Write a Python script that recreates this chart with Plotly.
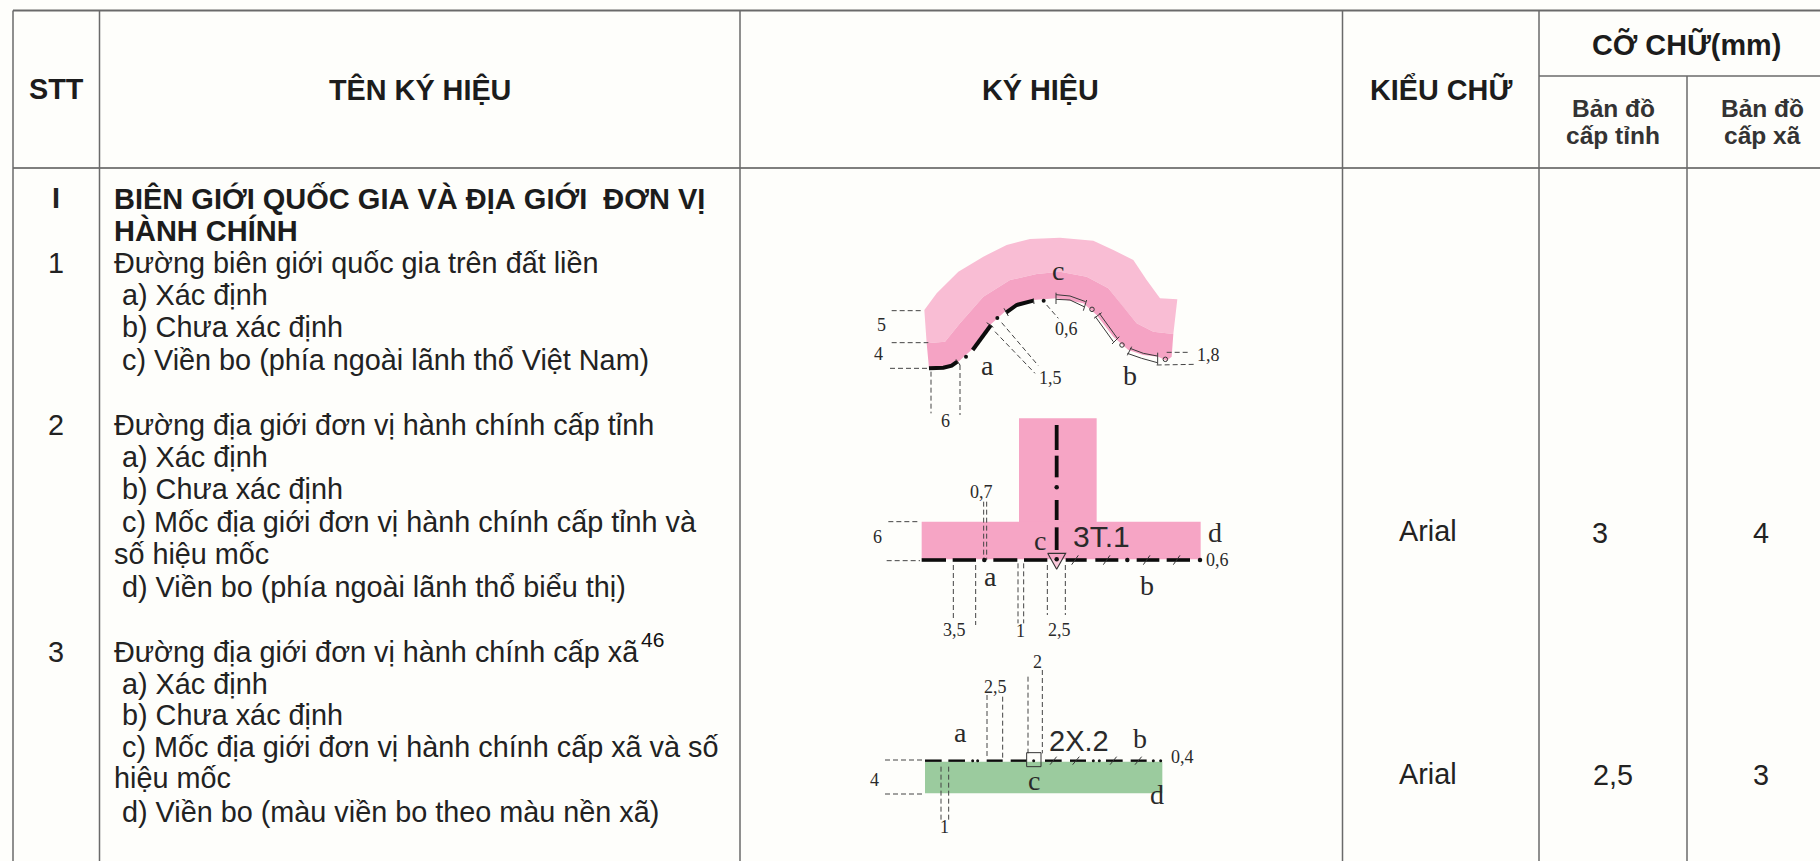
import plotly.graph_objects as go

W, H = 1820, 861
BG = "#FEFEFB"
RULE = "#6A6A6A"
SANS = "Liberation Sans, Arial, sans-serif"
SERIF = "Liberation Serif, Times New Roman, serif"

# ---------- table structure (pixels of the reference) ----------
col_edges = [13, 99.5, 740, 1342.5, 1539, 1687]
header_top, header_mid, header_bottom = 10.5, 76, 168

headers = ["STT", "TÊN KÝ HIỆU", "KÝ HIỆU", "KIỂU CHỮ", "CỠ CHỮ(mm)"]
header_x = [56, 420, 1040, 1441, 1686]
header_y = [89, 89, 89, 89, 44]
sub_headers = ["Bản đồ", "cấp tỉnh", "Bản đồ", "cấp xã"]
sub_x = [1613, 1613, 1762, 1762]
sub_y = [108, 135, 108, 135]

stt_labels = ["1", "2", "3"]
stt_y = [263, 425, 652]
section_label = "I"
section_y = 198

heading_lines = ["BIÊN GIỚI QUỐC GIA VÀ ĐỊA GIỚI  ĐƠN VỊ", "HÀNH CHÍNH"]
heading_y = [198, 230]

body_lines = [
    "Đường biên giới quốc gia trên đất liền", " a) Xác định", " b) Chưa xác định",
    " c) Viền bo (phía ngoài lãnh thổ Việt Nam)",
    "Đường địa giới đơn vị hành chính cấp tỉnh", " a) Xác định", " b) Chưa xác định",
    " c) Mốc địa giới đơn vị hành chính cấp tỉnh và", "số hiệu mốc",
    " d) Viền bo (phía ngoài lãnh thổ biểu thị)",
    "Đường địa giới đơn vị hành chính cấp xã", " a) Xác định", " b) Chưa xác định",
    " c) Mốc địa giới đơn vị hành chính cấp xã và số", "hiệu mốc",
    " d) Viền bo (màu viền bo theo màu nền xã)",
]
body_y = [263, 295, 327, 360, 425, 457, 489, 522, 554, 587, 652, 684, 715, 747, 778, 812]

cell_texts = ["Arial", "3", "4", "Arial", "2,5", "3"]
cell_x = [1428, 1600, 1761, 1428, 1613, 1761]
cell_y = [531, 533, 533, 774, 775, 775]

# ---------- diagram 1 (zoom-crop units, origin 820,200, scale 3) ----------
d1_outer = [(313, 330), (350, 280), (415, 215), (490, 170), (560, 135), (630, 117), (720, 113), (820, 122),
            (880, 150), (940, 180), (980, 240), (1020, 295), (1072, 298), (1060, 402), (1000, 395), (950, 370),
            (905, 315), (865, 265), (800, 230), (720, 215), (650, 222), (570, 240), (490, 290), (420, 370),
            (375, 425), (320, 430)]
d1_band = [(320, 430), (375, 425), (420, 370), (490, 290), (570, 240), (650, 222), (720, 215), (800, 230),
           (865, 265), (905, 315), (950, 370), (1000, 395), (1060, 402), (1055, 470), (1040, 482), (1015, 470),
           (970, 465), (925, 450), (880, 410), (830, 345), (790, 310), (710, 295), (640, 300), (560, 330),
           (510, 375), (460, 445), (410, 490), (370, 500), (327, 505)]
d1_thick = [[(327, 505), (370, 503), (395, 497), (412, 485)], [(458, 450), (513, 375)],
            [(558, 338), (590, 315), (640, 302)]]
d1_dots = [(438, 470), (532, 354), (671, 302)]
d1_ticks = [[(408, 478), (420, 495)], [(500, 368), (520, 382)], [(552, 325), (565, 348)], [(640, 295), (642, 312)]]
d1_double = [[(708, 284), (750, 288), (797, 305)], [(708, 298), (750, 300), (792, 320)],
             [(838, 340), (892, 415)], [(826, 350), (880, 425)],
             [(930, 445), (970, 460), (1012, 468)], [(922, 460), (965, 475), (1012, 488)]]
d1_caps = [[(708, 278), (708, 312)], [(800, 300), (790, 332)], [(845, 338), (822, 355)], [(898, 410), (876, 432)],
           [(935, 440), (922, 466)], [(1013, 458), (1013, 494)]]
d1_rings = [(816, 328), (906, 435), (1036, 478)]
d1_dash = [[(215, 332), (310, 332)], [(215, 428), (325, 428)], [(210, 505), (325, 505)], [(333, 515), (333, 640)],
           [(420, 495), (420, 645)], [(525, 395), (645, 520)], [(545, 368), (655, 497)], [(680, 315), (715, 355)],
           [(1010, 495), (1125, 493)], [(1040, 457), (1105, 457)]]
d1_labels = [("5", 183, 375, 18), ("4", 176, 462, 18), ("6", 376, 663, 18), ("a", 503, 497, 28), ("1,5", 690, 533, 18),
             ("0,6", 738, 388, 18), ("1,8", 1165, 465, 18), ("b", 930, 525, 28), ("c", 713, 210, 28)]

# ---------- diagram 2 (origin 820,400) ----------
d2_rects = [(597, 55, 830, 366), (305, 365, 1142, 478)]
d2_v_segments = [[(710, 75), (710, 150)], [(710, 167), (710, 232)], [(710, 300), (710, 360)], [(710, 382), (710, 450)]]
d2_v_dots = [(710, 262)]
d2_h_segments = [[(305, 480), (378, 480)], [(398, 480), (468, 480)], [(520, 480), (592, 480)], [(612, 480), (682, 480)],
                 [(737, 480), (800, 480)], [(826, 480), (895, 480)], [(950, 480), (1018, 480)], [(1040, 480), (1110, 480)]]
d2_h_dots = [(493, 480), (710, 478), (922, 480), (1140, 480)]
d2_slashes = [[(755, 494), (775, 466)], [(850, 494), (870, 466)], [(970, 494), (990, 466)], [(1060, 494), (1080, 466)]]
d2_triangle = [(683, 460), (737, 460), (710, 508), (683, 460)]
d2_dash = [[(205, 365), (300, 365)], [(200, 482), (300, 482)], [(491, 305), (491, 480)], [(500, 305), (500, 480)],
           [(400, 495), (400, 660)], [(467, 495), (467, 675)], [(594, 490), (594, 670)], [(611, 490), (611, 670)],
           [(682, 495), (682, 645)], [(736, 495), (736, 645)]]
d2_labels = [("c", 660, 420, 28), ("d", 1185, 397, 28), ("a", 512, 530, 28), ("b", 980, 556, 28), ("6", 173, 410, 18),
             ("0,7", 485, 275, 18), ("0,6", 1193, 480, 18), ("3,5", 402, 690, 18), ("1", 602, 692, 18), ("2,5", 718, 690, 18)]
d2_sans = [("3T.1", 845, 409, 30)]

# ---------- diagram 3 (origin 820,630) ----------
d3_rects = [(315, 395, 1027, 490)]
d3_segments = [[(315, 392), (365, 392)], [(385, 392), (435, 392)], [(500, 392), (548, 392)], [(572, 392), (620, 392)],
               [(675, 392), (725, 392)], [(750, 392), (798, 392)], [(858, 392), (908, 392)], [(932, 392), (980, 392)]]
d3_dots = [(458, 392), (473, 392), (641, 392), (820, 392), (838, 392), (1000, 392), (1022, 392)]
d3_slashes = [[(690, 404), (710, 380)], [(758, 404), (778, 380)], [(870, 404), (890, 380)], [(945, 404), (965, 380)]]
d3_square = [(620, 368), (663, 368), (663, 410), (620, 410), (620, 368)]
d3_dash = [[(195, 390), (310, 390)], [(195, 492), (315, 492)], [(363, 410), (363, 570)], [(386, 410), (386, 575)],
           [(501, 195), (501, 378)], [(548, 200), (548, 385)], [(624, 140), (624, 370)], [(667, 120), (667, 370)]]
d3_labels = [("a", 422, 307, 28), ("b", 960, 325, 28), ("c", 642, 452, 28), ("d", 1010, 493, 28), ("0,4", 1087, 382, 18),
             ("4", 162, 450, 18), ("1", 373, 592, 18), ("2,5", 525, 172, 18), ("2", 652, 95, 18)]
d3_sans = [("2X.2", 778, 333, 29)]

PINK_LIGHT, PINK_BAND, PINK_FLAT, GREEN = "#F9BDD4", "#F5A3C4", "#F6A5C5", "#9BCB9E"


def tx(p, ox, oy):
    return (ox + p[0] / 3, oy + p[1] / 3)


fig = go.Figure()


def lines(groups, ox=0, oy=0, color="#111", width=1.0, dash="solid"):
    xs, ys = [], []
    for g in groups:
        for p in g:
            x, y = tx(p, ox, oy) if (ox or oy) else p
            xs.append(x)
            ys.append(y)
        xs.append(None)
        ys.append(None)
    fig.add_trace(go.Scatter(x=xs, y=ys, mode="lines", hoverinfo="skip", showlegend=False,
                             line=dict(color=color, width=width, dash=dash)))


def poly(pts, ox, oy, color, line="rgba(0,0,0,0)", width=0):
    q = [tx(p, ox, oy) for p in pts]
    fig.add_trace(go.Scatter(x=[a for a, _ in q] + [q[0][0]], y=[b for _, b in q] + [q[0][1]], mode="lines",
                             fill="toself", fillcolor=color, hoverinfo="skip", showlegend=False,
                             line=dict(color=line, width=width)))


def dots(pts, ox, oy, size=4, color="#111", hollow=False):
    q = [tx(p, ox, oy) for p in pts]
    fig.add_trace(go.Scatter(x=[a for a, _ in q], y=[b for _, b in q], mode="markers", hoverinfo="skip",
                             showlegend=False,
                             marker=dict(size=size, color="rgba(0,0,0,0)" if hollow else color,
                                         line=dict(color=color, width=1 if hollow else 0))))


def rect_pts(r):
    return [(r[0], r[1]), (r[2], r[1]), (r[2], r[3]), (r[0], r[3])]


def text(s, x, y, size, family=SANS, bold=False, anchor="center", color="#1c1c1c"):
    s = s.replace(" ", "\u00a0")
    fig.add_annotation(x=x, y=y, text=f"<b>{s}</b>" if bold else s, showarrow=False,
                       xanchor=anchor, yanchor="middle", borderpad=0,
                       font=dict(family=family, size=size, color=color))


DASH = "5px,3px"
DASHC = "#444"

# grid
lines([[(col_edges[0], header_top), (W, header_top)]], color=RULE, width=2)
lines([[(col_edges[0], header_bottom), (W, header_bottom)]], color="#555", width=1.5)
lines([[(col_edges[4], header_mid), (W, header_mid)]], color=RULE, width=1.5)
lines([[(x, header_top), (x, H)] for x in col_edges[:5]], color=RULE, width=1.5)
lines([[(col_edges[5], header_mid), (col_edges[5], H)]], color=RULE, width=1.5)

# diagram 1
O1 = (820, 200)
poly(d1_outer, *O1, PINK_LIGHT)
poly(d1_band, *O1, PINK_BAND)
lines(d1_dash, *O1, color=DASHC, width=1, dash=DASH)
lines(d1_thick, *O1, color="#0c0c0c", width=4)
lines(d1_ticks, *O1, color="#333", width=1)
lines(d1_double, *O1, color="#3a3a3a", width=1)
lines(d1_caps, *O1, color="#3a3a3a", width=1)
dots(d1_dots, *O1, size=4)
dots(d1_rings, *O1, size=4.5, color="#333", hollow=True)

# diagram 2
O2 = (820, 400)
for r in d2_rects:
    poly(rect_pts(r), *O2, PINK_FLAT)
lines(d2_dash, *O2, color=DASHC, width=1, dash=DASH)
lines(d2_v_segments, *O2, color="#0c0c0c", width=3.8)
lines(d2_h_segments, *O2, color="#0c0c0c", width=3.6)
lines(d2_slashes, *O2, color="#333", width=1)
poly(d2_triangle, *O2, "rgba(246,165,197,0.6)", line="#333", width=1.1)
dots(d2_v_dots, *O2, size=4.5)
dots(d2_h_dots, *O2, size=4.5)

# diagram 3
O3 = (820, 630)
for r in d3_rects:
    poly(rect_pts(r), *O3, GREEN)
lines(d3_dash, *O3, color=DASHC, width=1, dash=DASH)
lines(d3_segments, *O3, color="#0c0c0c", width=2.4)
lines(d3_slashes, *O3, color="#333", width=1)
lines([d3_square], *O3, color="#333", width=1)
dots(d3_dots, *O3, size=3)

# texts
for s, x, y in zip(headers, header_x, header_y):
    text(s, x, y, 28.8, bold=True)
for s, x, y in zip(sub_headers, sub_x, sub_y):
    text(s, x, y, 24.5, bold=True, color="#333")
text(section_label, 56, section_y, 28.8, color="#222", bold=True)
for s, y in zip(stt_labels, stt_y):
    text(s, 56, y, 28.8, color="#222")
for s, y in zip(heading_lines, heading_y):
    text(s, 113, y, 29.0, bold=True, anchor="left")
for s, y in zip(body_lines, body_y):
    text(s, 113, y, 28.8, anchor="left", color="#222")
for s, x, y in zip(cell_texts, cell_x, cell_y):
    text(s, x, y, 28.8, color="#222")
text("46", 652, 639, 21, color="#111")

for labels, sans, (ox, oy) in [(d1_labels, [], O1), (d2_labels, d2_sans, O2), (d3_labels, d3_sans, O3)]:
    for s, x, y, size in labels:
        p = tx((x, y), ox, oy)
        text(s, p[0], p[1], size, family=SERIF, color="#2a2a2a")
    for s, x, y, size in sans:
        p = tx((x, y), ox, oy)
        text(s, p[0], p[1], size, color="#2a2a2a")

fig.update_layout(width=W, height=H, margin=dict(l=0, r=0, t=0, b=0), paper_bgcolor=BG, plot_bgcolor=BG,
                  showlegend=False,
                  xaxis=dict(range=[0, W], visible=False, fixedrange=True),
                  yaxis=dict(range=[H, 0], visible=False, fixedrange=True))

fig.write_html("out.html", config={"displayModeBar": False},
               post_script="document.body.style.margin='0';document.body.style.overflow='hidden';"
                           "document.body.style.background='#FEFEFB';")
